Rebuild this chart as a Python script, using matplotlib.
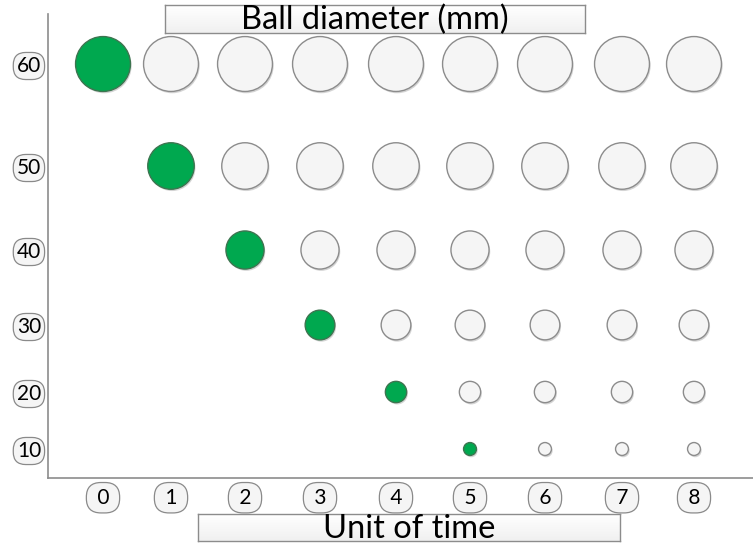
import numpy as np
import matplotlib
matplotlib.use("Agg")
import matplotlib.pyplot as plt
from matplotlib.transforms import offset_copy

plt.rcParams['font.family'] = ['Lato', 'DejaVu Sans']

# data
times = [0, 1, 2, 3, 4, 5, 6, 7, 8]
diameters = [60, 50, 40, 30, 20, 10]
smallest_diam = [60, 50, 40, 30, 20, 10, 10, 10, 10]   # smallest ball present at each time
new_ball = [60, 50, 40, 30, 20, 10, None, None, None]  # ball added at each time (green)

# layout of the hand drawn grid (pixels)
x_knots = [-0.75, 0, 1, 2, 3, 4, 5, 6, 7, 8, 8.75]
x_pix = [48, 103, 171, 245, 320, 396, 470, 545, 622, 694, 753]
y_knots = [5, 10, 20, 30, 40, 50, 60, 65]
y_pix = [0, 29, 86, 153, 228, 312, 414, 464]


def interp_scale(kv, kp):
    fwd = lambda v: np.interp(v, kv, kp)
    inv = lambda p: np.interp(p, kp, kv)
    return fwd, inv


def size_pt2(d):
    px = 4.5 + 0.84 * d
    return (px * 72 / 100) ** 2


W, H = 753, 543
fig = plt.figure(figsize=(W / 100, H / 100), dpi=100)
ax = fig.add_axes([48 / W, (H - 478) / H, 1 - 48 / W, (478 - 14) / H])
ax.set_xscale('function', functions=interp_scale(x_knots, x_pix))
ax.set_yscale('function', functions=interp_scale(y_knots, y_pix))

xs, ys, cols, edges = [], [], [], []
for t in times:
    for d in diameters:
        if d >= smallest_diam[t]:
            xs.append(t)
            ys.append(d)
            if d == new_ball[t]:
                cols.append('#00a84f')
                edges.append('#3d7550')
            else:
                cols.append('#f5f5f5')
                edges.append('#8c8c8c')
sizes = [size_pt2(d) for d in ys]

shadow = offset_copy(ax.transData, fig=fig, x=1.2, y=-1.8, units='dots')
ax.scatter(xs, ys, s=sizes, color='#d4d4d4', linewidths=0, transform=shadow, zorder=2)
ax.scatter(xs, ys, s=sizes, c=cols, edgecolors=edges, linewidths=1.0, zorder=3)

ax.set_xlim(-0.75, 8.75)
ax.set_ylim(5, 65)

for s in ['top', 'right']:
    ax.spines[s].set_visible(False)
for s in ['left', 'bottom']:
    ax.spines[s].set_color('#8c8c8c')
    ax.spines[s].set_linewidth(1.2)

xbox = dict(boxstyle='round,pad=0.25,rounding_size=0.7', facecolor='#f5f5f5',
            edgecolor='#8a8a8a', linewidth=0.9)
ybox = dict(boxstyle='round,pad=0.17,rounding_size=0.6', facecolor='#f5f5f5',
            edgecolor='#8a8a8a', linewidth=0.9)
nb = '\u00a0'
ax.set_xticks(times)
ax.set_xticklabels([nb + str(t) + nb for t in times], fontsize=15, bbox=xbox)
ax.set_yticks(diameters)
ax.set_yticklabels([str(d) for d in diameters], fontsize=15, bbox=ybox)
ax.tick_params(length=0)
ax.tick_params(axis='x', pad=7)
ax.tick_params(axis='y', pad=5)


def label_box(x0, y0, x1, y1, text, size):
    bax = fig.add_axes([x0 / W, (H - y1) / H, (x1 - x0) / W, (y1 - y0) / H])
    grad = np.linspace(0, 1, 50).reshape(-1, 1)
    bax.imshow(grad, aspect='auto', cmap='Greys', vmin=0, vmax=8,
               extent=[0, 1, 0, 1])
    bax.set_xticks([])
    bax.set_yticks([])
    for sp in bax.spines.values():
        sp.set_color('#8c8c8c')
        sp.set_linewidth(1.0)
    bax.text(0.5, 0.45, text, fontsize=size, ha='center', va='center',
             transform=bax.transAxes)


label_box(165, 5, 585, 33, 'Ball diameter (mm)', 23.5)
label_box(198, 514, 620, 541, 'Unit of time', 23.5)

fig.savefig('out.png', dpi=100)
